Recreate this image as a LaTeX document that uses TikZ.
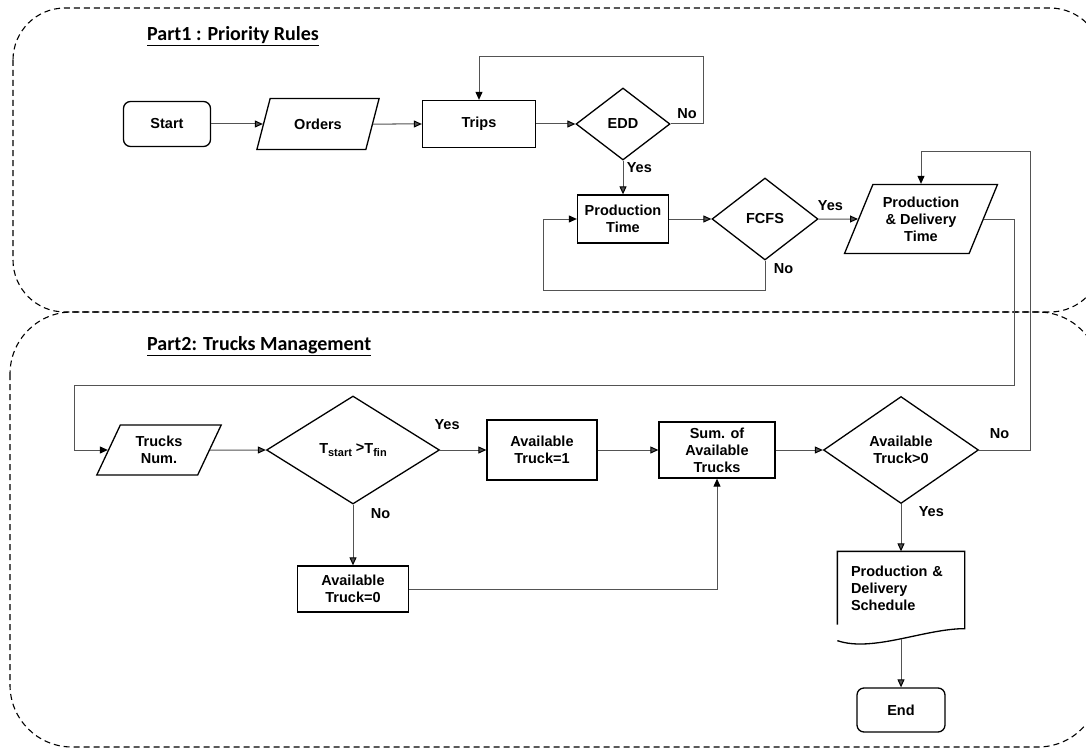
\documentclass[tikz,border=0pt]{standalone}
\usepackage{fontspec}
\setmainfont{Liberation Sans}
\newfontfamily\titlefont{Carlito}
\usetikzlibrary{shapes.geometric, arrows.meta, positioning, calc}

\tikzset{
    box/.style = {draw, line width=1.3pt, align=center, inner sep=2pt,
        font=\bfseries\fontsize{14.5}{17}\selectfont},
    block/.style = {box, rectangle},
    term/.style = {box, rectangle, rounded corners=7pt},
    io/.style = {box, trapezium, trapezium left angle=64, trapezium right angle=116,
        trapezium stretches=true},
    decision/.style = {box, diamond, inner sep=0pt},
    doc/.style = {box, draw=none, rectangle, align=left},
    line/.style = {color=gray!65!black, line width=1pt,
        -{Triangle[length=8pt, width=7pt, color=black]}},
    lbl/.style = {text=black, font=\bfseries\fontsize{14.5}{17}\selectfont},
    region/.style = {dash pattern=on 6pt off 4pt, line width=1.1pt},
    parttitle/.style = {anchor=west, inner sep=0pt, font=\titlefont\bfseries\fontsize{20}{24}\selectfont}
}

\begin{document}
\begin{tikzpicture}[node distance = 150pt, on grid, auto]

    \useasboundingbox (0,0) rectangle (1086pt,-749pt);
    \clip (0,0) rectangle (1086pt,-749pt);

    % the two parts
    \draw [region, rounded corners=52pt] (13pt,-8pt) rectangle (1102pt,-312pt);
    \draw [region, rounded corners=62pt] (10pt,-312pt) rectangle (1100pt,-747pt);
    \node (title1) [parttitle] at (147pt,-36pt) {\underline{Part1 : Priority Rules}};
    \node (title2) [parttitle] at (147pt,-346pt) {\underline{Part2: Trucks Management}};

    % part 1
    \node (start) [term, minimum width=87pt, minimum height=45pt] at (167pt,-124pt) {Start};
    \node (orders) [io, right = 151pt of start, minimum width=123pt, minimum height=51pt] {Orders};
    \node (trips) [block, right = 161pt of orders, minimum width=113pt, minimum height=47pt] {Trips};
    \node (edd) [decision, right = 144pt of trips, minimum width=94pt, minimum height=72pt] {EDD};
    \node (prodtime) [block, below = 95pt of edd, minimum width=91pt, minimum height=48pt] {Production\\Time};
    \node (fcfs) [decision, right = 142pt of prodtime, minimum width=106pt, minimum height=82pt] {FCFS};
    \node (pdtime) [io, right = 156pt of fcfs, minimum width=153pt, minimum height=69pt] {Production\\\& Delivery\\Time};

    % part 2
    \node (trucks) [io, minimum width=125pt, minimum height=50pt] at (159pt,-450pt) {Trucks\\Num.};
    \node (tcond) [decision, right = 194pt of trucks, minimum width=173pt, minimum height=108pt]
        {T\raisebox{-3pt}{\fontsize{11}{11}\selectfont start} \raisebox{1pt}{>}T\raisebox{-3pt}{\fontsize{11}{11}\selectfont fin}};
    \node (avail1) [block, right = 189pt of tcond, minimum width=110pt, minimum height=60pt] {Available\\Truck=1};
    \node (sum) [block, right = 175pt of avail1, minimum width=116pt, minimum height=56pt] {Sum. of\\Available\\Trucks};
    \node (avail2) [decision, right = 184pt of sum, minimum width=155pt, minimum height=107pt] {Available\\Truck>0};
    \node (avail0) [block, below = 139pt of tcond, minimum width=111pt, minimum height=46pt] {Available\\Truck=0};
    \node (sched) [doc, below = 138pt of avail2, minimum width=126pt, minimum height=72pt, text width=100pt]
        {Production \&\\Delivery\\Schedule};
    \node (end) [term, below = 122pt of sched, minimum width=88pt, minimum height=44pt] {End};

    % document outline
    \draw [line width=1.3pt] (sched.south west) -- (sched.north west) -- (sched.north east)
        -- ([yshift=-4pt]sched.south east) .. controls +(-40pt,0pt) and +(35pt,-12pt) .. ([yshift=-16pt]sched.south west);

    \path [line]
        (start) edge (orders)
        (orders) edge (trips)
        (trips) edge (edd)
        (edd) edge node [lbl, right, pos=0.2] {Yes} (prodtime)
        (prodtime) edge (fcfs)
        (fcfs) edge node [lbl, above, pos=0.3, yshift=5pt] {Yes} (pdtime)
        (trucks) edge (tcond)
        (tcond) edge node [lbl, above, pos=0.15, yshift=17pt] {Yes} (avail1)
        (tcond) edge node [lbl, right, pos=0.15, xshift=14pt] {No} (avail0)
        (avail1) edge (sum)
        (sum) edge (avail2)
        (avail2) edge node [lbl, right, pos=0.15, xshift=14pt] {Yes} (sched)
        ([yshift=-14pt]sched.south) edge (end);

    \draw [line] (edd.east) -- node [lbl, above, yshift=2pt] {No} ++(33pt,0) -- ++(0,67pt) -| (trips.north);
    \draw [line] (fcfs.south) -- node [lbl, right, pos=0.25, xshift=5pt] {No} ++(0,-30pt)
        -| ($(prodtime.west)+(-33pt,0)$) -- (prodtime.west);
    \draw [line] (pdtime.east) -- ++(30pt,0) -- ++(0,-166pt) -| ($(trucks.west)+(-33pt,0)$) -- (trucks.west);
    \draw [line] (avail2.east) -- node [lbl, above, pos=0.4, yshift=8pt] {No} ++(51pt,0)
        |- ($(pdtime.north)+(0,32pt)$) -- (pdtime.north);
    \draw [line] (avail0.east) -| (sum.south);

\end{tikzpicture}
\end{document}
